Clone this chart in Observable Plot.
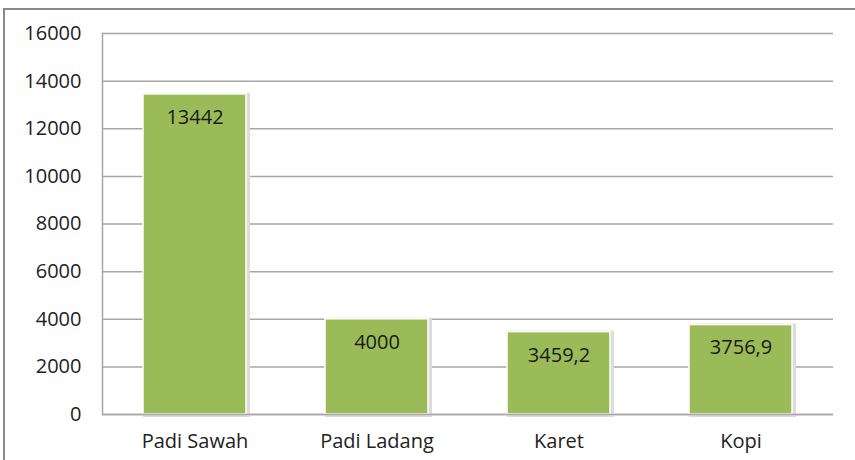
<!DOCTYPE html>
<html>
<head>
<meta charset="utf-8">
<script src="https://cdn.jsdelivr.net/npm/d3@7"></script>
<script src="https://cdn.jsdelivr.net/npm/@observablehq/plot@0.6"></script>
<style>
  html, body { margin: 0; padding: 0; background: #fff; }
  #wrap { position: relative; width: 855px; height: 460px; overflow: hidden; }
  #frame { position: absolute; left: 3px; top: 8px; width: 900px; height: 500px;
           border-left: 2px solid #8a8a8a; border-top: 2px solid #8a8a8a; }
  #chart { position: absolute; left: 0; top: 0; }
</style>
</head>
<body>
<div id="wrap"><div id="frame"></div><div id="chart"></div></div>
<script>
const categories = ["Padi Sawah", "Padi Ladang", "Karet", "Kopi"];
const values = [13442, 4000, 3459.2, 3756.9];
const valueLabels = ["13442", "4000", "3459,2", "3756,9"];
const yTicks = [0, 2000, 4000, 6000, 8000, 10000, 12000, 14000, 16000];

const data = categories.map((c, i) => ({cat: c, value: values[i], label: valueLabels[i]}));

const chart = Plot.plot({
  width: 855,
  height: 460,
  marginLeft: 102,
  marginRight: 22,
  marginTop: 33,
  marginBottom: 46,
  style: {fontFamily: "'Open Sans', sans-serif", fontSize: "20px", color: "#222", background: "transparent"},
  x: {domain: categories, label: null, paddingInner: 0.436, paddingOuter: 0.218, tickSize: 0, tickPadding: 19},
  y: {domain: [0, 16000], label: null, ticks: yTicks, tickSize: 0, tickPadding: 21, tickFormat: d => String(d)},
  marks: [
    Plot.gridY(yTicks, {stroke: "#a6a6a6", strokeOpacity: 1, strokeWidth: 1.5}),
    Plot.frame({anchor: "left", stroke: "#a6a6a6", strokeWidth: 1.5}),
    Plot.barY(data, {x: "cat", y: "value", fill: "#dcdcdc", dx: 2, dy: 1, inset: -2}),
    Plot.barY(data, {x: "cat", y: "value", fill: "#9bbb59", stroke: "#ffffff", strokeWidth: 1.5}),
    Plot.ruleY([0], {stroke: "#a6a6a6", strokeWidth: 1.5}),
    Plot.text(data, {x: "cat", y: "value", text: "label", dy: 23, fill: "#1a1a1a", fontSize: 20})
  ]
});
document.getElementById("chart").appendChild(chart);
</script>
</body>
</html>
